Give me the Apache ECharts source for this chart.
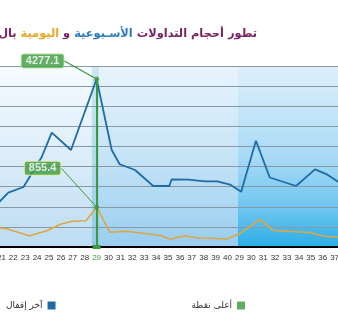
<!DOCTYPE html>
<html>
<head>
<meta charset="utf-8">
<script src="https://cdn.jsdelivr.net/npm/echarts@6/dist/echarts.min.js"></script>
<style>
html,body{margin:0;padding:0;background:#fff;overflow:hidden;width:338px;height:331px;}
#c{position:absolute;left:-40px;top:0;width:420px;height:331px;}
</style>
</head>
<body>
<div id="c"></div>
<script>
// Tick labels (positions -2 .. 30 on the x scale)
const tickLabels = ['19','20','21','22','23','24','25','26','27','28','29','30','31','32','33','34','35','36','37','38','39','40',
                    '29','30','31','32','33','34','35','36','37','38','39'];
const tickStart = -2;
const highlightTick = 8;

// Blue series: last close (x = position on tick scale, y = value)
const closeX = [-1, 0.58, 1.86, 3.39, 4.23, 5.85, 8, 9.27, 9.94, 11.23, 12.76, 14.11, 14.31, 15.71, 17.11, 18.14, 19.21, 20.15, 21.39, 22.55, 24.76, 26.35, 27.4, 29];
const closeY = [891, 1382, 1528, 2291, 2910, 2470, 4277.1, 2470, 2106, 1960, 1553, 1553, 1724, 1713, 1673, 1673, 1591, 1408, 2706, 1769, 1553, 1978, 1841, 1520];

// Yellow series: daily volume
const dailyX = [-1, 0.43, 2.34, 3.81, 4.97, 5.93, 7.11, 8, 9.13, 10.53, 11.92, 13.47, 14.17, 15.43, 16.52, 17.53, 18.93, 19.97, 21.73, 22.85, 25.93, 27.11, 29];
const dailyY = [430, 393, 241, 350, 488, 552, 563, 855.4, 316, 337, 294, 243, 168, 243, 193, 187, 172, 279, 595, 355, 312, 230, 204];

// Highest points
const peakX = 8;
const peakClose = 4277.1;
const peakDaily = 855.4;

// Background period boundaries
const periodEdges = [7.6, 19.88];
const highlightBand = [7.6, 8.2];

const legendNames = ['آخر إقفال', 'أعلى نقطة'];

const zip = (xs, ys) => xs.map((x, i) => [x, ys[i]]);
const grad = (stops) => new echarts.graphic.LinearGradient(0, 0, 0, 1, stops.map(s => ({offset: s[0], color: s[1]})));

const chart = echarts.init(document.getElementById('c'), null, {renderer: 'canvas'});
const GREEN = '#3a9a3c';
const BLUE = '#1d6ca8';
const GOLD = '#dfa63f';
const TF = 11.4;

chart.setOption({
  animation: false,
  title: {
    text: '{p|بال} {y|اليومية} {p|و} {b|الأسـبوعية} {p|تطور أحجام التداولات}',
    right: 118, top: 24,
    textStyle: {
      fontFamily: 'DejaVu Sans', fontSize: TF, fontWeight: 'bold',
      rich: {
        p: {color: '#7b2360', fontSize: TF, fontWeight: 'bold', fontFamily: 'DejaVu Sans'},
        b: {color: '#2b7bbd', fontSize: TF, fontWeight: 'bold', fontFamily: 'DejaVu Sans'},
        y: {color: '#e5a92a', fontSize: TF, fontWeight: 'bold', fontFamily: 'DejaVu Sans'}
      }
    }
  },
  legend: {
    data: legendNames,
    left: 41, top: 296,
    align: 'right',
    icon: 'rect', itemWidth: 8, itemHeight: 8,
    itemGap: 136,
    textStyle: {fontSize: 9, color: '#333', fontFamily: 'DejaVu Sans'}
  },
  grid: {left: 17.6, right: 21.6, top: 66, bottom: 84, containLabel: false},
  xAxis: {
    type: 'value', min: -2, max: 30, interval: 1,
    axisLine: {show: true, lineStyle: {color: '#000', width: 2}},
    axisTick: {show: false},
    splitLine: {show: false},
    axisLabel: {
      fontSize: 8, color: '#333', fontFamily: 'Liberation Sans', margin: 7,
      showMinLabel: true, showMaxLabel: true,
      formatter: v => {
        const s = tickLabels[Math.round(v) - tickStart] || '';
        return Math.round(v) === highlightTick ? '{g|' + s + '}' : s;
      },
      rich: {g: {color: GREEN, fontSize: 8, fontFamily: 'Liberation Sans'}}
    }
  },
  yAxis: [
    {type: 'value', min: 0, max: 4608, interval: 512,
     axisLine: {show: false}, axisTick: {show: false}, axisLabel: {show: false},
     splitLine: {show: true, lineStyle: {color: '#8a98a3', width: 1}}},
    {type: 'value', min: 0, max: 3890, interval: 3890,
     axisLine: {show: false}, axisTick: {show: false}, axisLabel: {show: false},
     splitLine: {show: false}}
  ],
  series: [
    {
      name: 'bg', type: 'line', data: [], silent: true,
      markArea: {
        silent: true, z: -1,
        data: [
          [{xAxis: -2, itemStyle: {color: grad([[0,'#f6fbff'],[0.5,'#dcedf9'],[1,'#bcdcf3']])}}, {xAxis: periodEdges[0]}],
          [{xAxis: periodEdges[0], itemStyle: {color: grad([[0,'#e9f4fc'],[0.5,'#c6e4f7'],[1,'#98cdf0']])}}, {xAxis: periodEdges[1]}],
          [{xAxis: periodEdges[1], itemStyle: {color: grad([[0,'#def0fb'],[0.5,'#a9daf5'],[0.8,'#6cc4ef'],[1,'#29ade6']])}}, {xAxis: 30}],
          [{xAxis: highlightBand[0], itemStyle: {color: 'rgba(120,190,215,0.25)'}}, {xAxis: highlightBand[1]}]
        ]
      }
    },
    {
      name: legendNames[0], type: 'line', yAxisIndex: 0,
      data: zip(closeX, closeY), showSymbol: false, symbol: 'none',
      lineStyle: {color: BLUE, width: 1.8}, itemStyle: {color: BLUE},
      markLine: {
        silent: true, symbol: 'none', z: 4,
        lineStyle: {color: GREEN, width: 2, type: 'solid'},
        label: {show: false},
        data: [[{coord: [peakX, peakClose]}, {coord: [peakX, 0]}]]
      },
      markPoint: {
        silent: true,
        data: [{coord: [peakX, 0], symbol: 'rect', symbolSize: [8, 4], itemStyle: {color: GREEN}, label: {show: false}}]
      }
    },
    {
      name: 'daily', type: 'line', yAxisIndex: 1,
      data: zip(dailyX, dailyY), showSymbol: false, symbol: 'none',
      lineStyle: {color: GOLD, width: 1.6}, itemStyle: {color: GOLD}
    },
    {
      name: legendNames[1], type: 'scatter', yAxisIndex: 0, z: 6,
      data: [[peakX, peakClose]], symbolSize: 5, itemStyle: {color: GREEN},
      label: {show: true, position: 'inside', formatter: p => p.value[1].toFixed(1),
        color: '#fff', fontSize: 11, fontWeight: 'bold', fontFamily: 'Liberation Sans',
        backgroundColor: '#3d9b40', borderColor: '#a8d98a', borderWidth: 1, borderRadius: 2, padding: [1, 4, 1, 4]},
      labelLayout: {dx: -54, dy: -18},
      labelLine: {show: true, lineStyle: {color: GREEN, width: 1.2}}
    },
    {
      name: legendNames[1], type: 'scatter', yAxisIndex: 1, z: 6,
      data: [[peakX, peakDaily]], symbolSize: 5, itemStyle: {color: GREEN},
      label: {show: true, position: 'inside', formatter: p => p.value[1].toFixed(1),
        color: '#fff', fontSize: 11, fontWeight: 'bold', fontFamily: 'Liberation Sans',
        backgroundColor: '#3d9b40', borderColor: '#e3ee9a', borderWidth: 1, borderRadius: 2, padding: [1, 4, 1, 4]},
      labelLayout: {dx: -54, dy: -39},
      labelLine: {show: true, lineStyle: {color: GREEN, width: 1}}
    }
  ]
});
</script>
</body>
</html>
